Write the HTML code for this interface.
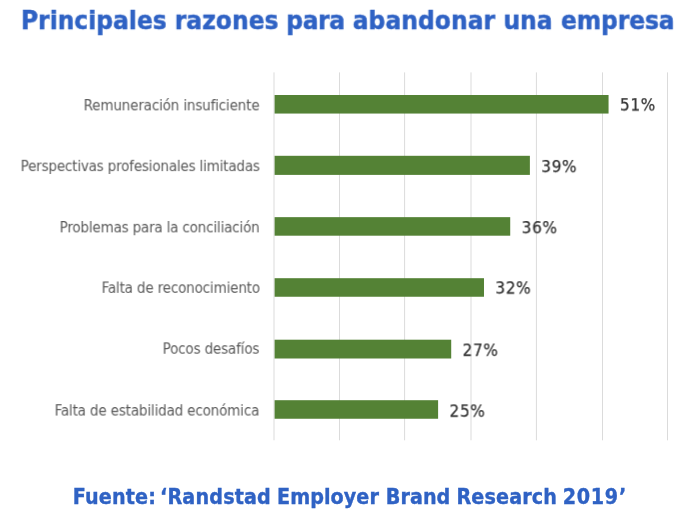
<!DOCTYPE html>
<html lang="es"><head><meta charset="utf-8"><title>Principales razones para abandonar una empresa</title>
<style>
html,body{margin:0;padding:0;background:#fff;}
body{width:699px;height:530px;position:relative;overflow:hidden;font-family:"DejaVu Sans Condensed","DejaVu Sans","Liberation Sans",sans-serif;}
svg{position:absolute;left:0;top:0;}
.t{position:absolute;white-space:nowrap;line-height:1;will-change:transform;}
.title{left:20px;top:8px;font-size:25.97px;font-weight:bold;color:#2f62c4;-webkit-text-stroke:0.45px #2f62c4;transform:translate(0.70px,0.10px) scaleY(0.96);transform-origin:0 21.97px;}
.foot{left:73px;top:485px;font-size:21.3px;font-weight:bold;color:#2f62c4;-webkit-text-stroke:0.35px #2f62c4;transform:translate(0.10px,0.80px);}
.lab{right:439px;font-size:15px;letter-spacing:-0.155px;color:#595959;text-align:right;transform-origin:0 12.5px;}
.val{font-size:17px;letter-spacing:0.68px;color:#333333;-webkit-text-stroke:0.25px #333333;transform-origin:0 8.2px;}
</style></head><body>
<svg width="699" height="530" viewBox="0 0 699 530">
<g fill="#dbdbdb">
<rect x="273.50" y="72.4" width="1" height="367.9"/>
<rect x="339.00" y="72.4" width="1" height="367.9"/>
<rect x="404.10" y="72.4" width="1" height="367.9"/>
<rect x="470.50" y="72.4" width="1" height="367.9"/>
<rect x="535.90" y="72.4" width="1" height="367.9"/>
<rect x="602.00" y="72.4" width="1" height="367.9"/>
<rect x="667.00" y="72.4" width="1" height="367.9"/>
</g><g fill="#548235">
<rect x="274.60" y="95.00" width="333.96" height="18.55"/>
<rect x="274.60" y="155.80" width="255.28" height="19.10"/>
<rect x="274.60" y="217.15" width="235.62" height="18.55"/>
<rect x="274.60" y="278.20" width="209.39" height="18.55"/>
<rect x="274.60" y="339.70" width="176.61" height="18.80"/>
<rect x="274.60" y="400.20" width="163.50" height="18.55"/>
</g></svg>
<div class="t title"><span style="letter-spacing:0.04px;margin-left:0.16px">Principales</span> <span style="letter-spacing:0.06px;margin-left:-0.12px">razones</span> <span style="letter-spacing:-0.36px;margin-left:-0.36px">para</span> <span style="letter-spacing:0.09px;margin-left:-0.04px">abandonar</span> <span style="letter-spacing:-0.12px;margin-left:0.30px">una</span> <span style="letter-spacing:-0.08px;margin-left:0.67px">empresa</span></div>
<div class="t lab" style="top:98px;transform:translate(-0.40px,0.30px) scaleY(0.947)">Remuneración insuficiente</div>
<div class="t val" style="left:619px;top:96px;transform:translate(0.91px,0.80px) scaleY(0.95)">51%</div>
<div class="t lab" style="top:159px;transform:translate(-0.40px,0.10px) scaleY(0.947);letter-spacing:-0.179px">Perspectivas profesionales limitadas</div>
<div class="t val" style="left:541px;top:158px;transform:translate(0.23px,0.50px) scaleY(0.95)">39%</div>
<div class="t lab" style="top:220px;transform:translate(-0.40px,0.35px) scaleY(0.947);letter-spacing:-0.175px">Problemas para la conciliación</div>
<div class="t val" style="left:521px;top:219px;transform:translate(0.57px,0.60px) scaleY(0.95)">36%</div>
<div class="t lab" style="top:280px;transform:translate(-0.40px,0.80px) scaleY(0.947)">Falta de reconocimiento</div>
<div class="t val" style="left:495px;top:279px;transform:translate(0.34px,0.90px) scaleY(0.95)">32%</div>
<div class="t lab" style="top:341px;transform:translate(-0.40px,0.70px) scaleY(0.947)">Pocos desafíos</div>
<div class="t val" style="left:462px;top:342px;transform:translate(0.56px,0.10px) scaleY(0.95)">27%</div>
<div class="t lab" style="top:403px;transform:translate(-0.40px,0.50px) scaleY(0.947)">Falta de estabilidad económica</div>
<div class="t val" style="left:449px;top:403px;transform:translate(0.45px,0.00px) scaleY(0.95)">25%</div>
<div class="t foot"><span style="letter-spacing:0.16px;margin-left:-0.32px">Fuente:</span> <span style="letter-spacing:0.16px;margin-left:-2.72px">‘Randstad</span> <span style="letter-spacing:0.05px;margin-left:-0.61px">Employer</span> <span style="letter-spacing:0.06px;margin-left:0.19px">Brand</span> <span style="letter-spacing:0.15px;margin-left:-0.68px">Research</span> <span style="letter-spacing:0.72px;margin-left:-1.12px">2019’</span></div>
</body></html>
